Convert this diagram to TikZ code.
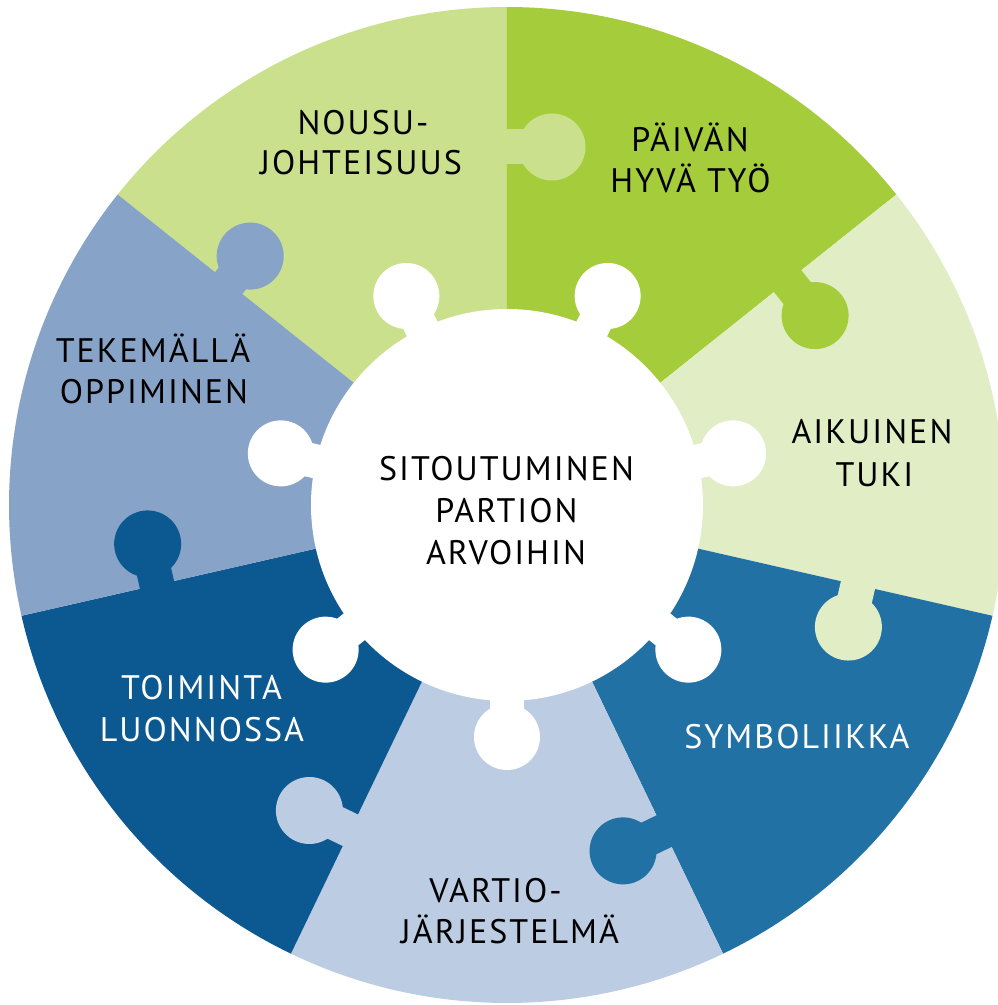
\documentclass[tikz,border=0pt]{standalone}
\usepackage{fontspec}
\newfontfamily\lblfam[LetterSpace=6]{PT Sans}
\definecolor{cNou}{RGB}{202,224,140}
\definecolor{cPai}{RGB}{165,204,58}
\definecolor{cAik}{RGB}{224,237,197}
\definecolor{cSym}{RGB}{33,113,165}
\definecolor{cVar}{RGB}{188,204,227}
\definecolor{cToi}{RGB}{12,88,144}
\definecolor{cTek}{RGB}{135,164,200}
\tikzset{
  lbl/.style={inner sep=0pt, text height=23.8pt, text depth=0pt,
    font=\lblfam\fontsize{34}{40}\selectfont},
  lblw/.style={lbl, text=white}
}
\newcommand{\sector}[2]{%
  \fill[#2] (0,0) -- (#1:498) arc[start angle=#1, end angle=#1+51.4286, radius=498] -- cycle;}
\newcommand{\knob}[4]{% angle, colour, along, offset
  \begin{scope}[rotate=#1]
    \fill[#2] (#3,-#4) circle[radius=33.5];
    \fill[#2] ({#3-17.5},0.8) rectangle ({#3+17.5},{-#4+10});
  \end{scope}}
\newcommand{\inknob}[1]{%
  \begin{scope}[rotate=#1]
    \fill[white] (232,0) circle[radius=33];
    \fill[white] (185,-17) rectangle (220,17);
  \end{scope}}
\begin{document}
\begin{tikzpicture}[x=1pt,y=1pt]
\useasboundingbox (-507,-500) rectangle (491,505);
\fill[white] (-507,-500) rectangle (491,505);
\clip (-507,-500) rectangle (491,505);
% sectors
\sector{90}{cNou}
\sector{38.5714}{cPai}
\sector{-12.8571}{cAik}
\sector{-64.2857}{cSym}
\sector{-115.7143}{cVar}
\sector{-167.1429}{cToi}
\sector{141.4286}{cTek}
% outer knobs
\knob{90}{cNou}{358}{45}
\knob{38.5714}{cPai}{359}{44}
\knob{-12.8571}{cAik}{360}{43}
\knob{-64.2857}{cSym}{362}{45.5}
\knob{-115.7143}{cVar}{361}{45.5}
\knob{-167.1429}{cToi}{359}{42}
\knob{141.4286}{cTek}{356}{34.5}
% inner white hub
\fill[white] (0,0) circle[radius=196];
\inknob{64.2857}
\inknob{12.8571}
\inknob{-38.5714}
\inknob{-90}
\inknob{-141.4286}
\inknob{-192.8571}
\inknob{115.7143}
% labels (image px -> x-507, 505-y)
\node[lbl] (nou1) at ({363-507},{505-122.5}) {NOUSU-};
\node[lbl] (nou2) at ({361-507},{505-163}) {JOHTEISUUS};
\node[lbl] (pai1) at ({690-507},{505-140}) {PÄIVÄN};
\node[lbl] (pai2) at ({690.5-507},{505-180.5}) {HYVÄ TYÖ};
\node[lbl] (aik1) at ({872-507},{505-431.5}) {AIKUINEN};
\node[lbl] (aik2) at ({874.5-507},{505-474.5}) {TUKI};
\node[lblw] (sym1) at ({797-507},{505-737}) {SYMBOLIIKKA};
\node[lbl] (var1) at ({495.5-507},{505-890.5}) {VARTIO-};
\node[lbl] (var2) at ({510-507},{505-932}) {JÄRJESTELMÄ};
\node[lblw] (toi1) at ({201.5-507},{505-687.5}) {TOIMINTA};
\node[lblw] (toi2) at ({202-507},{505-730}) {LUONNOSSA};
\node[lbl] (tek1) at ({153-507},{505-351}) {TEKEMÄLLÄ};
\node[lbl] (tek2) at ({154-507},{505-391.5}) {OPPIMINEN};
\node[lbl] (cen1) at ({506.5-507},{505-469}) {SITOUTUMINEN};
\node[lbl] (cen2) at ({506.5-507},{505-510.5}) {PARTION};
\node[lbl] (cen3) at ({506-507},{505-552.5}) {ARVOIHIN};
\end{tikzpicture}
\end{document}
